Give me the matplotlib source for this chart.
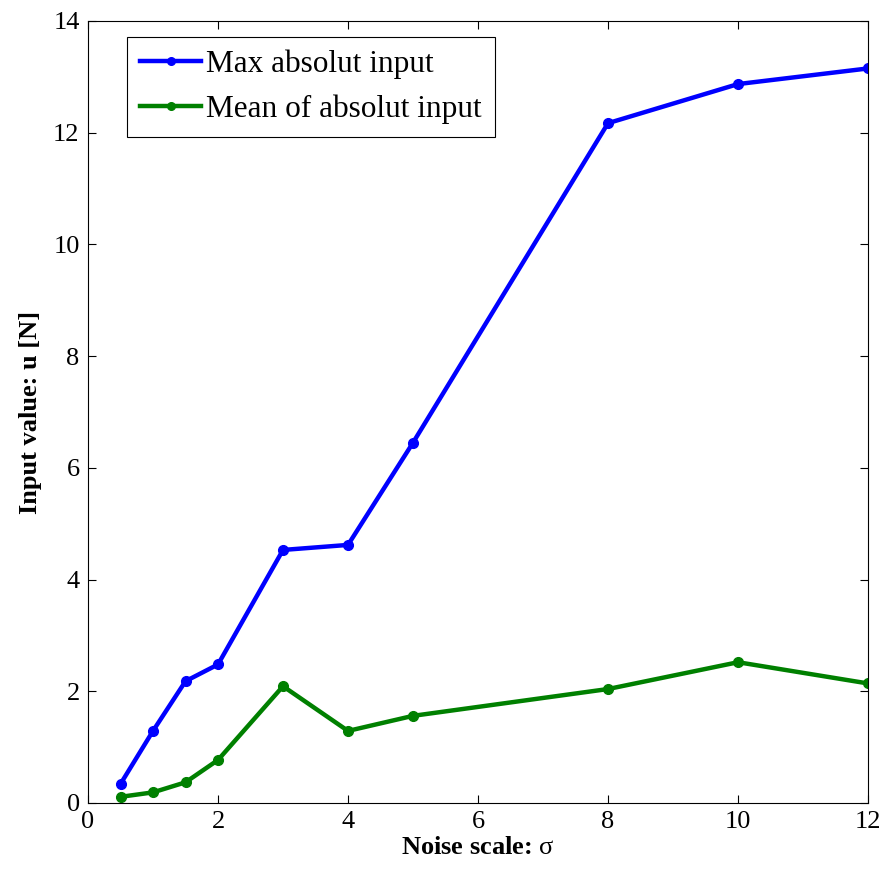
import numpy as np
import matplotlib
matplotlib.use('Agg')
import matplotlib.pyplot as plt

# Data
noise_scale = [0.5, 1, 1.5, 2, 3, 4, 5, 8, 10, 12]
max_abs_input = [0.34, 1.29, 2.18, 2.48, 4.53, 4.62, 6.45, 12.17, 12.87, 13.15]
mean_abs_input = [0.11, 0.19, 0.37, 0.77, 2.09, 1.29, 1.56, 2.04, 2.52, 2.14]
x_ticks = [0, 2, 4, 6, 8, 10, 12]
y_ticks = [0, 2, 4, 6, 8, 10, 12, 14]

plt.rcParams.update({
    'font.family': 'Liberation Serif',
    'mathtext.fontset': 'custom',
    'mathtext.rm': 'Liberation Serif',
    'axes.linewidth': 0.8,
})

fig = plt.figure(figsize=(8.88, 8.73), dpi=100)
ax = fig.add_axes([0.0991, 0.0802, 0.8784, 0.8958])

ax.plot(noise_scale, max_abs_input, '-o', color='#0000ff', linewidth=3.2,
        markersize=7, label='Max absolut input')
ax.plot(noise_scale, mean_abs_input, '-o', color='#008000', linewidth=3.2,
        markersize=7, label='Mean of absolut input')

ax.set_xlim(0, 12)
ax.set_ylim(0, 14)
ax.set_xticks(x_ticks)
ax.set_yticks(y_ticks)
ax.tick_params(direction='in', length=5.5, width=0.8, top=True, right=True,
               labelsize=19, pad=6)

ax.set_xlabel(r'Noise scale: $\mathrm{\sigma}$', fontsize=19, fontweight='bold', labelpad=2)
ax.set_ylabel('Input value: u [N]', fontsize=19, fontweight='bold', labelpad=8)

leg = ax.legend(loc='upper left', bbox_to_anchor=(0.05, 0.98), fontsize=22.5,
                frameon=True, fancybox=False, edgecolor='black', framealpha=1,
                handlelength=1.95, handletextpad=0.15, borderpad=0.42,
                labelspacing=0.48, borderaxespad=0)
leg.get_frame().set_linewidth(0.8)
for line in leg.get_lines():
    line.set_markersize(5.5)

fig.savefig('out.png', dpi=100)
